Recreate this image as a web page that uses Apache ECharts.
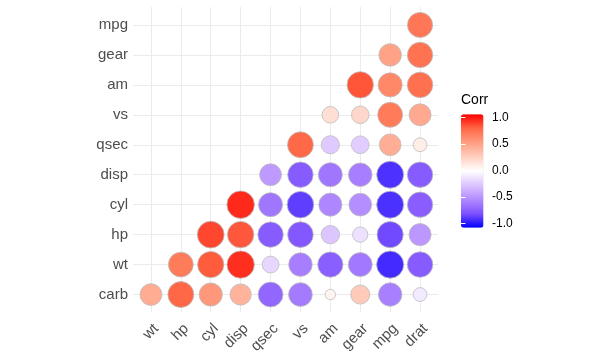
<!DOCTYPE html>
<html><head><meta charset="utf-8">
<script src="https://cdn.jsdelivr.net/npm/echarts@6/dist/echarts.min.js"></script>
<style>html,body{margin:0;padding:0;background:#fff}#c{width:614px;height:361px}</style>
</head><body><div id="c"></div>
<script>
// x-axis categories (left to right)
const xCats = ['wt','hp','cyl','disp','qsec','vs','am','gear','mpg','drat'];
// y-axis categories (bottom to top)
const yCats = ['carb','wt','hp','cyl','disp','qsec','vs','am','gear','mpg'];
// correlation values per y row, starting at x column equal to the row index
const rowCarb = [0.428, 0.750, 0.527, 0.395, -0.656, -0.570, 0.058, 0.274, -0.551, -0.091];
const rowWt   = [0.659, 0.782, 0.888, -0.175, -0.555, -0.692, -0.583, -0.868, -0.712];
const rowHp   = [0.832, 0.791, -0.708, -0.723, -0.243, -0.126, -0.776, -0.449];
const rowCyl  = [0.902, -0.591, -0.811, -0.523, -0.493, -0.852, -0.700];
const rowDisp = [-0.434, -0.710, -0.591, -0.556, -0.848, -0.710];
const rowQsec = [0.745, -0.230, -0.213, 0.419, 0.091];
const rowVs   = [0.168, 0.206, 0.664, 0.440];
const rowAm   = [0.794, 0.600, 0.713];
const rowGear = [0.480, 0.700];
const rowMpg  = [0.681];
const legendTicks = [-1, -0.5, 0, 0.5, 1];

const rows = [rowCarb,rowWt,rowHp,rowCyl,rowDisp,rowQsec,rowVs,rowAm,rowGear,rowMpg];
const data = [];
rows.forEach((r,i)=>r.forEach((v,k)=>data.push([i+k, i, v])));
const absVals = data.map(d=>Math.abs(d[2]));
const aMin = Math.min(...absVals), aMax = Math.max(...absVals);
const dMin = 10.5, dMax = 27.5;
function sz(v){ return dMin + (dMax-dMin)*Math.sqrt((Math.abs(v)-aMin)/(aMax-aMin)); }

const idx = xCats.map((_,i)=>i);
const gridLines = idx.map(i=>({xAxis:i})).concat(idx.map(i=>({yAxis:i})));
const FONT = 'Liberation Sans, Arial, sans-serif';

const chart = echarts.init(document.getElementById('c'), null, {renderer:'canvas'});
chart.setOption({
  animation:false,
  backgroundColor:'#fff',
  textStyle:{fontFamily:FONT},
  title:{text:'Corr', left:461, top:93, padding:0, textStyle:{fontSize:14, fontWeight:'normal', color:'#000', fontFamily:FONT}},
  grid:[
    {left:133, right:176, top:7, bottom:48.5, containLabel:false},
    {left:461, width:22.5, top:117.3, height:106}
  ],
  xAxis:[
    {type:'value', gridIndex:0, min:-0.6, max:9.6,
     axisLine:{show:false}, axisTick:{show:false, customValues:idx}, splitLine:{show:false},
     axisLabel:{customValues:idx, formatter:v=>xCats[Math.round(v)], rotate:45, verticalAlign:'top', align:'right', fontSize:15, color:'#4d4d4d', margin:8.5, fontFamily:FONT}},
    {type:'value', gridIndex:1, show:false, min:0, max:1}
  ],
  yAxis:[
    {type:'value', gridIndex:0, min:-0.6, max:9.6,
     axisLine:{show:false}, axisTick:{show:false, customValues:idx}, splitLine:{show:false},
     axisLabel:{customValues:idx, formatter:v=>yCats[Math.round(v)], fontSize:15, color:'#4d4d4d', margin:5, fontFamily:FONT}},
    {type:'value', gridIndex:1, min:-1, max:1, interval:0.5, position:'right', z:10,
     axisLine:{show:false}, splitLine:{show:false},
     axisTick:{show:true, inside:true, length:4.5, lineStyle:{color:'#fff', width:1}},
     axisLabel:{formatter:v=>v.toFixed(1), fontSize:12, color:'#000', margin:8.5, fontFamily:FONT}},
    {type:'value', gridIndex:1, min:-1, max:1, interval:0.5, position:'left', z:10,
     axisLine:{show:false}, splitLine:{show:false},
     axisTick:{show:true, inside:true, length:4.5, lineStyle:{color:'#fff', width:1}},
     axisLabel:{show:false}}
  ],
  visualMap:{type:'continuous', min:-1, max:1, dimension:2, seriesIndex:0,
    left:461, top:114.3, itemWidth:22.5, itemHeight:113.4, padding:0, calculable:false, orient:'vertical',
    inRange:{color:['#0000ff','#7e52ff','#b38bff','#dcc4ff','#ffffff','#ffcfbf','#ff9e81','#ff6846','#ff0000']}},
  series:[
    {type:'scatter', xAxisIndex:0, yAxisIndex:0, z:3, data:data,
     symbolSize:d=>sz(d[2]),
     itemStyle:{borderColor:'#bdbdbd', borderWidth:0.8, opacity:1},
     markLine:{silent:true, z:1, symbol:'none', label:{show:false},
       lineStyle:{color:'#ebebeb', width:1, type:'solid'}, emphasis:{disabled:true}, data:gridLines}}
  ]
});
</script></body></html>
